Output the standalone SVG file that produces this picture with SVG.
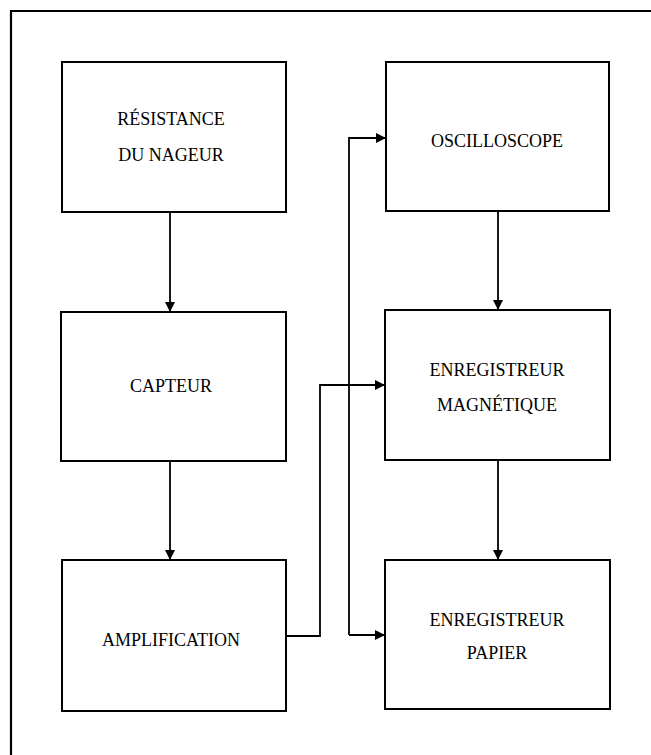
<svg xmlns="http://www.w3.org/2000/svg" width="651" height="755" viewBox="0 0 651 755">
<defs>
<style>
.box{fill:#fff;stroke:#000;stroke-width:2}
.lbl{font-family:"Liberation Serif","Times New Roman",serif;font-size:18px;fill:#000;text-anchor:middle}
.con{fill:none;stroke:#000;stroke-width:1.8}
.frame{fill:none;stroke:#000;stroke-width:2.2}
</style>
<marker id="ah" viewBox="0 0 10 10" refX="10" refY="5" markerWidth="11" markerHeight="10" markerUnits="userSpaceOnUse" orient="auto">
<path d="M0,0 L10,5 L0,10 Z" fill="#000"/>
</marker>
</defs>
<rect width="651" height="755" fill="#fff"/>
<path class="frame" d="M11,755 V11 H651"/>
<g id="resistance">
<rect class="box" x="62" y="62" width="224" height="150"/>
<text class="lbl" x="171" y="125">RÉSISTANCE</text>
<text class="lbl" x="171" y="161">DU NAGEUR</text>
</g>
<g id="capteur">
<rect class="box" x="61" y="312" width="225" height="149"/>
<text class="lbl" x="171" y="392">CAPTEUR</text>
</g>
<g id="amplification">
<rect class="box" x="62" y="560" width="224" height="151"/>
<text class="lbl" x="171" y="646">AMPLIFICATION</text>
</g>
<g id="oscilloscope">
<rect class="box" x="386" y="62" width="223" height="149"/>
<text class="lbl" x="497" y="147">OSCILLOSCOPE</text>
</g>
<g id="magnetique">
<rect class="box" x="385" y="310" width="225" height="150"/>
<text class="lbl" x="497" y="376">ENREGISTREUR</text>
<text class="lbl" x="497" y="411">MAGNÉTIQUE</text>
</g>
<g id="papier">
<rect class="box" x="385" y="560" width="225" height="149"/>
<text class="lbl" x="497" y="626">ENREGISTREUR</text>
<text class="lbl" x="497" y="659">PAPIER</text>
</g>
<g id="connectors">
<path class="con" marker-end="url(#ah)" d="M170,212 V312"/>
<path class="con" marker-end="url(#ah)" d="M170,461 V560"/>
<path class="con" marker-end="url(#ah)" d="M498,211 V310"/>
<path class="con" marker-end="url(#ah)" d="M498,460 V560"/>
<path class="con" marker-end="url(#ah)" d="M286,636 H320 V385 H385"/>
<path class="con" marker-end="url(#ah)" d="M349,635 V138 H386"/>
<path class="con" marker-end="url(#ah)" d="M349,635 H385"/>
</g>
</svg>
